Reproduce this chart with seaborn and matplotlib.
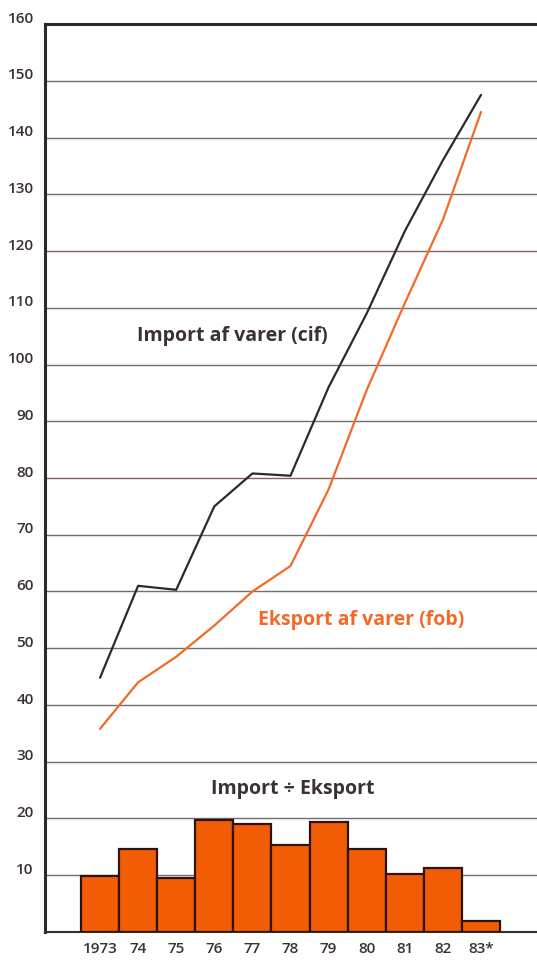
import matplotlib
matplotlib.use("Agg")
import matplotlib.pyplot as plt
import matplotlib.transforms as mtransforms
import numpy as np
import pandas as pd
import seaborn as sns

# Data (mia. kr.)
years = ["1973", "74", "75", "76", "77", "78", "79", "80", "81", "82", "83*"]
import_vals = [44.8, 61.0, 60.3, 75.0, 80.8, 80.4, 96.0, 109.0, 123.5, 136.0, 147.5]
export_vals = [35.8, 44.0, 48.5, 54.0, 60.0, 64.5, 78.0, 95.5, 110.8, 125.5, 144.5]
balance_vals = [9.9, 14.6, 9.6, 19.8, 19.0, 15.3, 19.3, 14.6, 10.2, 11.2, 1.9]
ytick_vals = list(range(10, 161, 10))

df = pd.DataFrame({"year": years, "pos": np.arange(len(years)),
                   "imp": import_vals, "exp": export_vals, "bal": balance_vals})

sns.set_theme(style="white")
plt.rcParams["font.family"] = ["Open Sans", "DejaVu Sans"]

text_dark = "#3b3131"
orange = "#f25c05"

fig = plt.figure(figsize=(5.37, 9.61), dpi=100)
ax = fig.add_axes([0.0838, 0.0302, 0.9162, 0.9448])

# gridlines, two of them brownish-red
for v in ytick_vals[:-1]:
    col = "#8e5c5c" if v in (80, 120) else "#707070"
    ax.axhline(v, color=col, lw=1.0, zorder=1)

# bars for import minus export
sns.barplot(data=df, x="pos", y="bal", color=orange, width=1.0, saturation=1,
            edgecolor="#2e140c", linewidth=1.6, native_scale=True, ax=ax, zorder=3)

# lines
sns.lineplot(data=df, x="pos", y="imp", color="#2b2b2b", lw=1.6, ax=ax, zorder=4)
sns.lineplot(data=df, x="pos", y="exp", color="#f26a2a", lw=1.6, ax=ax, zorder=4)

ax.set_xlim(-1.444, 11.47)
ax.set_ylim(0, 160)
ax.set_xticks(df["pos"])
ax.set_xticklabels(years)
ax.set_yticks(ytick_vals)
ax.set_yticklabels([str(v) for v in ytick_vals])
ax.set_xlabel("")
ax.set_ylabel("")
ax.tick_params(axis="both", length=0, labelsize=11, labelcolor=text_dark)
ax.tick_params(axis="x", pad=7)
ax.tick_params(axis="y", pad=8)
offset = mtransforms.ScaledTranslation(0, 5 / 72, fig.dpi_scale_trans)
for lab in ax.get_yticklabels():
    lab.set_transform(lab.get_transform() + offset)
for lab in ax.get_xticklabels() + ax.get_yticklabels():
    lab.set_fontweight("semibold")

ax.spines["right"].set_visible(False)
ax.spines["left"].set_color("#2a2a2a")
ax.spines["left"].set_linewidth(2.2)
ax.spines["top"].set_color("#2a2a2a")
ax.spines["top"].set_linewidth(2.2)
ax.spines["bottom"].set_color("#3a2a2a")
ax.spines["bottom"].set_linewidth(1.5)

ax.text(3.46, 105.1, "Import af varer (cif)", color=text_dark, fontsize=14,
        fontweight="bold", ha="center", va="center")
ax.text(6.85, 55.0, "Eksport af varer (fob)", color="#f26a2a", fontsize=14,
        fontweight="bold", ha="center", va="center")
ax.text(5.07, 25.2, "Import \u00f7 Eksport", color=text_dark, fontsize=14,
        fontweight="bold", ha="center", va="center")

fig.savefig("out.png", dpi=100)
